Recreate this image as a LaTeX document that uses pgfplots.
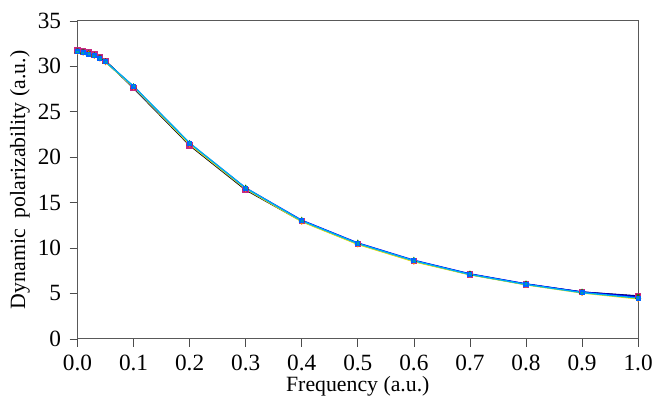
\documentclass[border=0pt]{standalone}
\usepackage{pgfplots}
\pgfplotsset{compat=1.18}
\usepackage{fontspec}
\setmainfont{Liberation Serif}
\begin{document}
\begin{tikzpicture}
\begin{axis}[
  scale only axis,
  width=564bp, height=320bp,
  xmin=0, xmax=1, ymin=0, ymax=35,
  xtick={0,0.1,...,1.0},
  ytick={0,5,...,35},
  xticklabel style={yshift=-5bp},
  xticklabel style={/pgf/number format/.cd,fixed,fixed zerofill,precision=1,/tikz/.cd},
  /pgf/number format/assume math mode=true,
  tick align=outside,
  tick pos=left,
  major tick length=8bp,
  axis line style={draw=black!65, line width=0.9pt},
  tick style={draw=black!70, line width=0.7pt},
  ticklabel style={font=\fontsize{23.5}{27}\selectfont},
  yticklabel style={xshift=-5bp},
  xlabel={Frequency (a.u.)},
  ylabel={Dynamic\ \ polarizability (a.u.)},
  label style={font=\fontsize{22}{26}\selectfont},
  xlabel style={at={(axis description cs:0.5,0)}, anchor=base, yshift=-53bp},
  ylabel style={at={(axis description cs:0,0.5)}, anchor=center, yshift=58bp},
  clip=false,
]
% series 1 black
\addplot[black, line width=1.3pt, mark=square*, mark size=2.6pt, mark options={draw=magenta!80!black, fill=magenta!60!blue}] coordinates {
(0,31.75) (0.01,31.65) (0.02,31.5) (0.03,31.3) (0.04,31.0) (0.05,30.6) (0.1,27.6) (0.2,21.3) (0.3,16.4) (0.4,12.95) (0.5,10.45) (0.6,8.55) (0.7,7.1) (0.8,6.0) (0.9,5.15) (1.0,4.7)};
% series 2 navy
\addplot[blue!50!black, line width=1.5pt, mark=x, mark size=2.6pt, mark options={draw=purple, line width=1pt}] coordinates {
(0,31.7) (0.01,31.6) (0.02,31.45) (0.03,31.25) (0.04,30.95) (0.05,30.55) (0.1,27.65) (0.2,21.4) (0.3,16.5) (0.4,13.0) (0.5,10.5) (0.6,8.6) (0.7,7.12) (0.8,6.02) (0.9,5.15) (1.0,4.72)};
% series 3 blue
\addplot[blue, line width=1.5pt, mark=triangle*, mark size=2.2pt, mark options={draw=green!50!black, fill=green!60!black}] coordinates {
(0,31.65) (0.01,31.55) (0.02,31.4) (0.03,31.2) (0.04,30.9) (0.05,30.5) (0.1,27.75) (0.2,21.5) (0.3,16.6) (0.4,13.05) (0.5,10.55) (0.6,8.65) (0.7,7.15) (0.8,6.05) (0.9,5.15) (1.0,4.6)};
% series 4 yellow
\addplot[yellow!90!orange, line width=1.2pt, mark=diamond*, mark size=2.2pt, mark options={draw=orange, fill=orange}] coordinates {
(0,31.6) (0.01,31.5) (0.02,31.35) (0.03,31.15) (0.04,30.85) (0.05,30.45) (0.1,27.7) (0.2,21.4) (0.3,16.5) (0.4,12.9) (0.5,10.4) (0.6,8.5) (0.7,7.05) (0.8,5.95) (0.9,5.05) (1.0,4.4)};
% series 5 cyan
\addplot[cyan, line width=1.5pt, mark=square*, mark size=1.8pt, mark options={draw=blue!60!cyan, fill=teal!70!cyan}] coordinates {
(0,31.6) (0.01,31.5) (0.02,31.35) (0.03,31.15) (0.04,30.85) (0.05,30.5) (0.1,27.8) (0.2,21.55) (0.3,16.6) (0.4,13.0) (0.5,10.5) (0.6,8.6) (0.7,7.1) (0.8,6.0) (0.9,5.1) (1.0,4.5)};
\end{axis}
\pgfresetboundingbox
\path ([xshift=-78bp,yshift=-58bp]current axis.south west) rectangle ([xshift=16bp,yshift=21bp]current axis.north east);
\end{tikzpicture}
\end{document}
